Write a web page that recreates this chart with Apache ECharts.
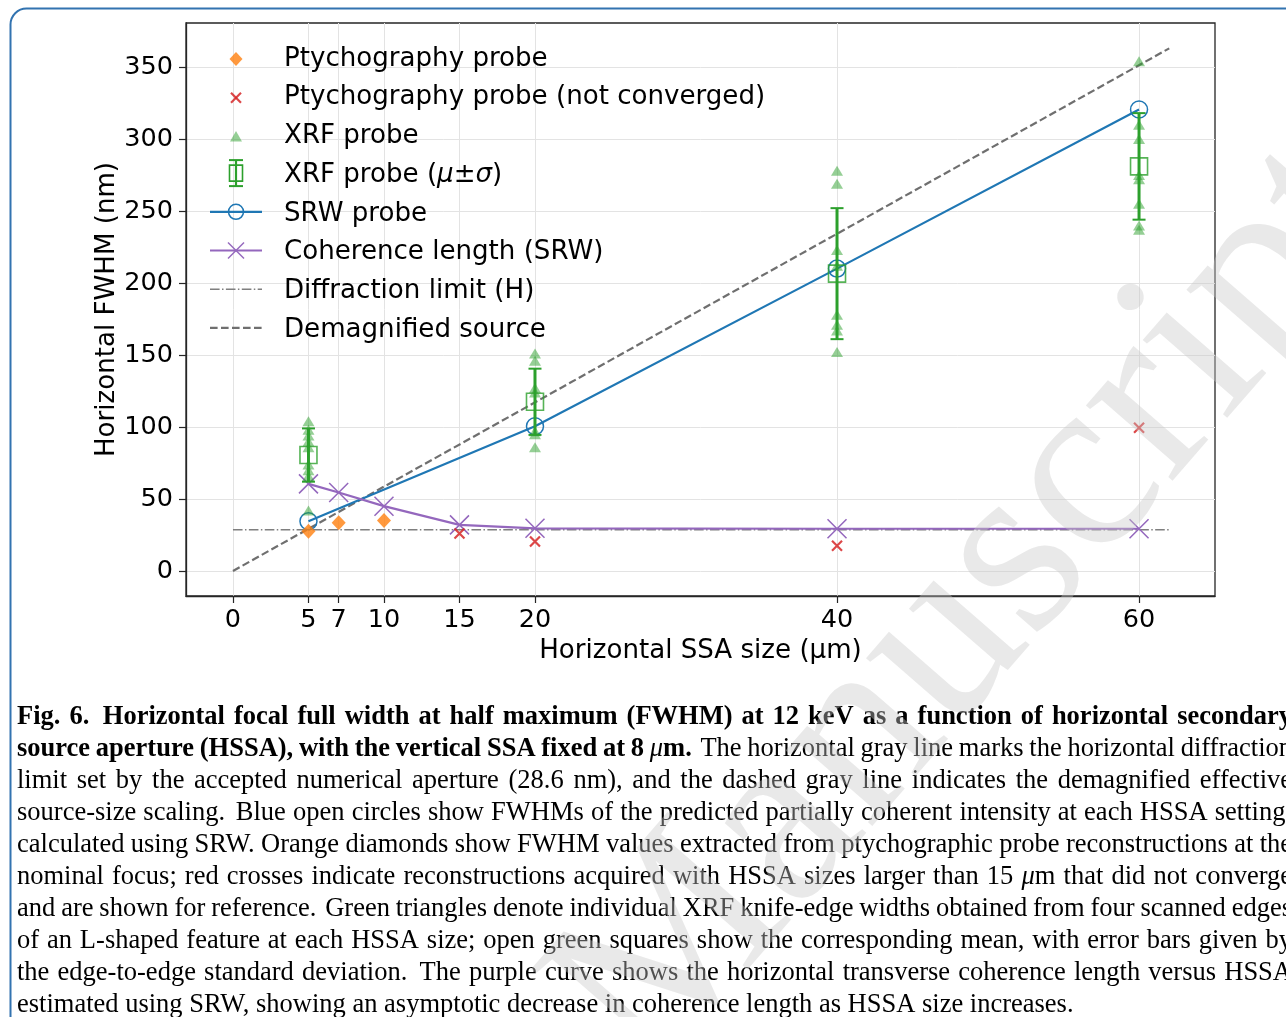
<!DOCTYPE html>
<html>
<head>
<meta charset="utf-8">
<script src="https://cdn.jsdelivr.net/npm/echarts@6/dist/echarts.min.js"></script>
<style>
  html, body { margin: 0; padding: 0; background: #fff; }
  #chart { width: 1286px; height: 1017px; }
</style>
</head>
<body>
<div id="chart"></div>
<script>
// Horizontal SSA settings (µm) and measured / simulated FWHM values (nm)
const ssaPtycho = [5, 7, 10];
const fwhmPtycho = [27.5, 33.5, 35];

const ssaNotConverged = [15, 20, 40, 60];
const fwhmNotConverged = [26, 20.5, 17.5, 99.5];

const ssaSrw = [5, 20, 40, 60];
const fwhmSrw = [34.5, 100.5, 210, 320.5];

const ssaCoherence = [5, 7, 10, 15, 20, 40, 60];
const coherenceLength = [60.5, 54.5, 45, 32, 29.6, 29.3, 29.3];

// XRF knife-edge widths, one list per HSSA setting
const ssaXrf = [5, 20, 40, 60];
const xrfAt5 = [104, 98, 94, 90, 86, 74, 70, 66, 42];
const xrfAt20 = [151, 146, 127, 124, 97, 95, 86];
const xrfAt40 = [278, 269, 223, 212, 178, 171, 167, 152];
const xrfAt60 = [354, 310, 300, 275, 272, 255, 240, 237];
const xrfMean = [80.5, 117.5, 206.5, 281];
const xrfStd = [18.5, 23, 45.5, 37];

// Reference lines
const diffractionLimit = 28.6;
const refSpan = [0, 62];
const demagnifiedAt = [0, 363];

// Axis ticks
const xTicks = [0, 5, 7, 10, 15, 20, 40, 60];
const yTicks = [0, 50, 100, 150, 200, 250, 300, 350];

const legendNames = [
  'Ptychography probe',
  'Ptychography probe (not converged)',
  'XRF probe',
  'XRF probe (μ±σ)',
  'SRW probe',
  'Coherence length (SRW)',
  'Diffraction limit (H)',
  'Demagnified source'
];

const captionLines = [
  [['b', 'Fig. 6.  Horizontal focal full width at half maximum (FWHM) at 12 keV as a function of horizontal secondary']],
  [['b', 'source aperture (HSSA), with the vertical SSA fixed at 8 '], ['i', 'μ'], ['b', 'm.'], ['r', '  The horizontal gray line marks the horizontal diffraction']],
  [['r', 'limit set by the accepted numerical aperture (28.6 nm), and the dashed gray line indicates the demagnified effective']],
  [['r', 'source-size scaling.  Blue open circles show FWHMs of the predicted partially coherent intensity at each HSSA setting,']],
  [['r', 'calculated using SRW. Orange diamonds show FWHM values extracted from ptychographic probe reconstructions at the']],
  [['r', 'nominal focus; red crosses indicate reconstructions acquired with HSSA sizes larger than 15 '], ['i', 'μ'], ['r', 'm that did not converge']],
  [['r', 'and are shown for reference.  Green triangles denote individual XRF knife-edge widths obtained from four scanned edges']],
  [['r', 'of an L-shaped feature at each HSSA size; open green squares show the corresponding mean, with error bars given by']],
  [['r', 'the edge-to-edge standard deviation.  The purple curve shows the horizontal transverse coherence length versus HSSA']],
  [['r', 'estimated using SRW, showing an asymptotic decrease in coherence length as HSSA size increases.']]
];

const C = {
  blue: '#1f77b4', orange: '#ff7f0e', green: '#2ca02c', red: '#d62728',
  purple: '#9467bd', gray: '#7f7f7f', dash: '#6f6f6f', grid: '#e3e3e3', frame: '#262626'
};
const SANS = '"DejaVu Sans", sans-serif';
const SERIF = '"Liberation Serif", "Times New Roman", serif';
const FS = 26.1;       // legend and axis titles
const FS_TICK = 25.5;  // tick labels
const CROSS = 'path://M0,0L1,1M1,0L0,1';

const zip = (xs, ys) => xs.map((x, i) => [x, ys[i]]);
const xrfPoints = [xrfAt5, xrfAt20, xrfAt40, xrfAt60]
  .flatMap((vals, i) => vals.map(v => [ssaXrf[i], v]));

// ---------- caption (justified, word by word) ----------
const measureCtx = document.createElement('canvas').getContext('2d');
const CAP_FS = 26.5;
const capFont = {
  r: `${CAP_FS}px ${SERIF}`,
  b: `bold ${CAP_FS}px ${SERIF}`,
  i: `italic ${CAP_FS}px ${SERIF}`
};
function textWidth(style, txt) {
  measureCtx.font = capFont[style];
  return measureCtx.measureText(txt).width;
}
function splitWords(segs) {
  const words = [];
  let cur = [], pending = 0;
  for (const [st, txt] of segs) {
    let buf = '';
    for (const ch of txt) {
      if (ch === ' ') {
        if (buf) { cur.push([st, buf]); buf = ''; }
        if (cur.length) { words.push({ pieces: cur, gap: pending }); cur = []; pending = 0; }
        pending += 1;
      } else {
        buf += ch;
      }
    }
    if (buf) cur.push([st, buf]);
  }
  if (cur.length) words.push({ pieces: cur, gap: pending });
  return words;
}
function captionGraphics(left, firstMid, step, width) {
  const out = [];
  const natural = textWidth('r', ' ');
  captionLines.forEach((segs, li) => {
    const words = splitWords(segs);
    words.forEach(w => { w.w = w.pieces.reduce((s, [st, t]) => s + textWidth(st, t), 0); });
    const total = words.reduce((s, w) => s + w.w, 0);
    const weights = words.slice(1).reduce((s, w) => s + (w.gap > 1 ? 1.5 : 1), 0);
    const last = li === captionLines.length - 1;
    const unit = last ? natural : (width - total) / weights;
    let x = left;
    const y = firstMid + li * step;
    words.forEach((w, wi) => {
      if (wi > 0) x += unit * (w.gap > 1 ? 1.5 : 1);
      let px = x;
      w.pieces.forEach(([st, t]) => {
        out.push({
          type: 'text', silent: true, z: 10,
          style: { text: t, x: px, y: y, font: capFont[st], fill: '#000', align: 'left', verticalAlign: 'middle' }
        });
        px += textWidth(st, t);
      });
      x += w.w;
    });
  });
  return out;
}

// ---------- legend ----------
function legendGraphics(iconX, textX, top, step) {
  const g = [];
  const rowY = i => top + i * step;
  const txt = (i, text, rich) => ({
    type: 'text', silent: true, z: 20,
    style: { text, x: textX, y: rowY(i) + 2, font: `${FS}px ${SANS}`, fill: '#000', align: 'left', verticalAlign: 'middle', rich }
  });
  // 0 diamond
  let y = rowY(0) + 2;
  g.push({ type: 'polygon', z: 20, shape: { points: [[iconX, y - 7], [iconX + 6.5, y], [iconX, y + 7], [iconX - 6.5, y]] }, style: { fill: C.orange, opacity: 0.8 } });
  // 1 red cross
  y = rowY(1) + 2;
  g.push({ type: 'line', z: 20, shape: { x1: iconX - 5, y1: y - 5, x2: iconX + 5, y2: y + 5 }, style: { stroke: C.red, lineWidth: 2.2, opacity: 0.85 } });
  g.push({ type: 'line', z: 20, shape: { x1: iconX + 5, y1: y - 5, x2: iconX - 5, y2: y + 5 }, style: { stroke: C.red, lineWidth: 2.2, opacity: 0.85 } });
  // 2 triangle
  y = rowY(2) + 2;
  g.push({ type: 'polygon', z: 20, shape: { points: [[iconX, y - 5.5], [iconX + 6, y + 5], [iconX - 6, y + 5]] }, style: { fill: C.green, opacity: 0.5 } });
  // 3 error bar with square
  y = rowY(3);
  g.push({ type: 'line', z: 20, shape: { x1: iconX, y1: y - 13, x2: iconX, y2: y + 13 }, style: { stroke: C.green, lineWidth: 2.2 } });
  g.push({ type: 'line', z: 20, shape: { x1: iconX - 7, y1: y - 13, x2: iconX + 7, y2: y - 13 }, style: { stroke: C.green, lineWidth: 2 } });
  g.push({ type: 'line', z: 20, shape: { x1: iconX - 7, y1: y + 13, x2: iconX + 7, y2: y + 13 }, style: { stroke: C.green, lineWidth: 2 } });
  g.push({ type: 'rect', z: 21, shape: { x: iconX - 6.5, y: y - 8, width: 13, height: 16 }, style: { fill: 'none', stroke: C.green, lineWidth: 1.6 } });
  // 4 SRW line + circle
  y = rowY(4);
  g.push({ type: 'line', z: 20, shape: { x1: iconX - 26, y1: y, x2: iconX + 26, y2: y }, style: { stroke: C.blue, lineWidth: 2.2 } });
  g.push({ type: 'circle', z: 20, shape: { cx: iconX, cy: y, r: 7.5 }, style: { fill: 'none', stroke: C.blue, lineWidth: 1.5 } });
  // 5 coherence line + cross
  y = rowY(5);
  g.push({ type: 'line', z: 20, shape: { x1: iconX - 26, y1: y, x2: iconX + 26, y2: y }, style: { stroke: C.purple, lineWidth: 2.2 } });
  g.push({ type: 'line', z: 20, shape: { x1: iconX - 8, y1: y - 8, x2: iconX + 8, y2: y + 8 }, style: { stroke: C.purple, lineWidth: 1.5 } });
  g.push({ type: 'line', z: 20, shape: { x1: iconX + 8, y1: y - 8, x2: iconX - 8, y2: y + 8 }, style: { stroke: C.purple, lineWidth: 1.5 } });
  // 6 dash-dot
  y = rowY(6);
  g.push({ type: 'line', z: 20, shape: { x1: iconX - 26, y1: y, x2: iconX + 26, y2: y }, style: { stroke: C.gray, lineWidth: 1.5, lineDash: [9.6, 2.4, 1.5, 2.4] } });
  // 7 dashed
  y = rowY(7);
  g.push({ type: 'line', z: 20, shape: { x1: iconX - 26, y1: y, x2: iconX + 26, y2: y }, style: { stroke: C.dash, lineWidth: 2.2, lineDash: [7.6, 3.4] } });

  legendNames.forEach((name, i) => {
    if (i === 3) {
      g.push(txt(i, '{n|XRF probe (}{i|μ}{n|±}{i|σ}{n|)}', {
        n: { font: `${FS}px ${SANS}`, fill: '#000' },
        i: { font: `italic ${FS}px ${SANS}`, fill: '#000' }
      }));
    } else {
      g.push(txt(i, name));
    }
  });
  return g;
}

const chart = echarts.init(document.getElementById('chart'), null, { renderer: 'canvas' });

const tickLabelStyle = { color: '#000', fontFamily: SANS, fontSize: FS_TICK };

const option = {
  animation: false,
  backgroundColor: '#fff',
  grid: {
    left: 186, top: 23, width: 1029, height: 573,
    show: true, borderColor: C.frame, borderWidth: 1.3, backgroundColor: 'transparent'
  },
  xAxis: {
    type: 'value', min: -3.11, max: 65.03,
    name: 'Horizontal SSA size (µm)', nameLocation: 'middle', nameGap: 42, nameMoveOverlap: false,
    nameTextStyle: { color: '#000', fontFamily: SANS, fontSize: FS },
    axisLine: { onZero: false, lineStyle: { color: C.frame, width: 1.3 } },
    axisTick: { customValues: xTicks, length: 7, lineStyle: { color: C.frame, width: 1.2 } },
    axisLabel: Object.assign({ customValues: xTicks, margin: 11 }, tickLabelStyle),
    splitLine: { show: true, lineStyle: { color: C.grid, width: 1 } }
  },
  yAxis: {
    type: 'value', min: -17.4, max: 380.6,
    name: 'Horizontal FWHM (nm)', nameLocation: 'middle', nameGap: 66, nameMoveOverlap: false,
    nameTextStyle: { color: '#000', fontFamily: SANS, fontSize: FS },
    axisLine: { onZero: false, lineStyle: { color: C.frame, width: 1.3 } },
    axisTick: { customValues: yTicks, length: 7, lineStyle: { color: C.frame, width: 1.2 } },
    axisLabel: Object.assign({ customValues: yTicks, margin: 13, padding: [4, 0, 0, 0] }, tickLabelStyle),
    splitLine: { show: true, lineStyle: { color: C.grid, width: 1 } }
  },
  series: [
    {
      name: 'Demagnified source', type: 'line', symbol: 'none', z: 2, silent: true,
      data: zip(refSpan, demagnifiedAt),
      lineStyle: { color: C.dash, width: 2.2, type: [7.6, 3.4] }
    },
    {
      name: 'Diffraction limit (H)', type: 'line', symbol: 'none', z: 2, silent: true,
      data: refSpan.map(x => [x, diffractionLimit]),
      lineStyle: { color: C.gray, width: 1.5, type: [9.6, 2.4, 1.5, 2.4] }
    },
    {
      name: 'SRW probe', type: 'line', z: 4, silent: true,
      data: zip(ssaSrw, fwhmSrw),
      symbol: 'circle', symbolSize: 17,
      itemStyle: { color: 'rgba(0,0,0,0)', borderColor: C.blue, borderWidth: 1.5 },
      lineStyle: { color: C.blue, width: 2.2 }
    },
    {
      name: 'Coherence length (SRW)', type: 'line', z: 4, silent: true,
      data: zip(ssaCoherence, coherenceLength),
      symbol: CROSS, symbolSize: 19,
      itemStyle: { color: 'rgba(0,0,0,0)', borderColor: C.purple, borderWidth: 1.5 },
      lineStyle: { color: C.purple, width: 2.2 }
    },
    {
      name: 'Ptychography probe', type: 'scatter', z: 5, silent: true,
      data: zip(ssaPtycho, fwhmPtycho),
      symbol: 'diamond', symbolSize: [14, 15],
      itemStyle: { color: C.orange, opacity: 0.8 }
    },
    {
      name: 'Ptychography probe (not converged)', type: 'scatter', z: 5, silent: true,
      data: zip(ssaNotConverged, fwhmNotConverged),
      symbol: CROSS, symbolSize: 10,
      itemStyle: { color: 'rgba(0,0,0,0)', borderColor: C.red, borderWidth: 2.2, opacity: 0.85 }
    },
    {
      name: 'XRF probe', type: 'scatter', z: 5, silent: true,
      data: xrfPoints,
      symbol: 'triangle', symbolSize: [12, 10],
      itemStyle: { color: C.green, opacity: 0.5 }
    },
    {
      name: 'XRF probe (μ±σ)', type: 'custom', z: 6, silent: true,
      data: ssaXrf.map((x, i) => [x, xrfMean[i], xrfStd[i]]),
      encode: { x: 0, y: 1 },
      renderItem(params, api) {
        const x = api.value(0), m = api.value(1), s = api.value(2);
        const top = api.coord([x, m + s]);
        const bot = api.coord([x, m - s]);
        const cap = 6.5;
        return {
          type: 'group',
          children: [
            { type: 'line', shape: { x1: top[0], y1: top[1], x2: bot[0], y2: bot[1] }, style: { stroke: C.green, lineWidth: 3 } },
            { type: 'line', shape: { x1: top[0] - cap, y1: top[1], x2: top[0] + cap, y2: top[1] }, style: { stroke: C.green, lineWidth: 2 } },
            { type: 'line', shape: { x1: bot[0] - cap, y1: bot[1], x2: bot[0] + cap, y2: bot[1] }, style: { stroke: C.green, lineWidth: 2 } }
          ]
        };
      }
    },
    {
      name: 'XRF mean', type: 'scatter', z: 7, silent: true,
      data: zip(ssaXrf, xrfMean),
      symbol: 'rect', symbolSize: 17,
      itemStyle: { color: 'rgba(0,0,0,0)', borderColor: C.green, borderWidth: 1.6 }
    }
  ],
  graphic: [
    // page frame
    {
      type: 'rect', silent: true, z: 1,
      shape: { x: 10.5, y: 8.5, width: 1400, height: 1100, r: 16 },
      style: { fill: 'none', stroke: '#3273b0', lineWidth: 2 }
    },
    ...legendGraphics(236, 284, 57, 38.7),
    ...captionGraphics(17, 717.5, 31.9, 1275),
    // diagonal watermark
    {
      type: 'text', silent: true, z: 50,
      x: 657, y: 1088, rotation: 49 * Math.PI / 180,
      style: {
        text: 'Manuscript', x: 0, y: -75,
        font: `250px ${SERIF}`, fill: 'rgba(200,200,200,0.4)',
        align: 'left', verticalAlign: 'middle'
      }
    }
  ]
};

chart.setOption(option);
</script>
</body>
</html>
